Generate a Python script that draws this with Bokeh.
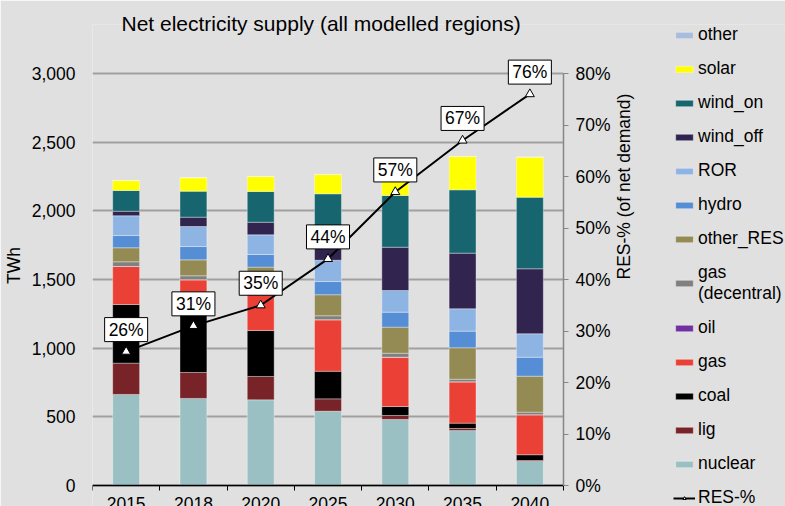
import math
from bokeh.plotting import figure
from bokeh.models import (ColumnDataSource, Range1d, LinearAxis, FixedTicker, Grid,
                          NumeralTickFormatter, Legend, LegendItem, LabelSet, BoxAnnotation)
from bokeh.models.glyphs import Text
from bokeh.embed import file_html
from bokeh.resources import INLINE

# ---------------- data ----------------
years = ["2015", "2018", "2020", "2025", "2030", "2035", "2040"]

nuclear = [663, 634, 624, 541, 481, 400, 175]
lig = [228, 189, 170, 90, 29, 15, 7]
coal = [427, 502, 335, 201, 65, 39, 42]
gas = [277, 173, 370, 375, 359, 301, 291]
oil = [0, 0, 0, 0, 0, 0, 0]
gas_decentral = [34, 29, 30, 29, 29, 19, 19]
other_res = [102, 116, 61, 153, 190, 229, 262]
hydro = [89, 97, 92, 96, 109, 121, 138]
ror = [144, 146, 143, 155, 158, 163, 171]
wind_off = [33, 68, 92, 140, 315, 405, 473]
wind_on = [151, 189, 224, 344, 377, 461, 521]
solar = [73, 98, 109, 141, 160, 243, 292]
other = [0, 0, 0, 0, 0, 0, 0]

res_share = [0.26, 0.31, 0.35, 0.44, 0.57, 0.67, 0.76]

twh_ticks = [0, 500, 1000, 1500, 2000, 2500, 3000]
pct_ticks = [0.0, 0.1, 0.2, 0.3, 0.4, 0.5, 0.6, 0.7, 0.8]

# stacking order bottom -> top
series = [
    ("nuclear", nuclear, "#9BC0C3"),
    ("lig", lig, "#772328"),
    ("coal", coal, "#000000"),
    ("gas", gas, "#EA4035"),
    ("oil", oil, "#7030A0"),
    ("gas_decentral", gas_decentral, "#808080"),
    ("other_RES", other_res, "#948A54"),
    ("hydro", hydro, "#558ED5"),
    ("ROR", ror, "#8EB4E3"),
    ("wind_off", wind_off, "#312550"),
    ("wind_on", wind_on, "#17666F"),
    ("solar", solar, "#FFFF00"),
    ("other", other, "#A9BCDB"),
]
legend_text = {"gas_decentral": "gas\n(decentral)"}

FONT = "Liberation Sans"
BG = "#E0E0E0"
FS = "17.5px"
TXT = "#000000"

# ---------------- geometry (pixels) ----------------
W, H = 785, 506
PLOT_L, PLOT_R = 92, 563          # bar area left / right-axis position
FRAME_T = 24                      # frame top (legend shares the frame)
Y0_PX, Y3000_PX = 485, 73         # pixel rows of 0 and 3,000 TWh

n = len(years)
tw_per_px = 3000.0 / (Y0_PX - Y3000_PX)
y_lo = -(H - Y0_PX) * tw_per_px
y_hi = (Y0_PX - FRAME_T) * tw_per_px
x_per_px = n / float(PLOT_R - PLOT_L)
x_hi = n + (W - PLOT_R) * x_per_px
pct_scale = 0.8 / 3000.0

centers = [i + 0.5 for i in range(n)]
bounds = [float(i) for i in range(n + 1)]

data = {"x": centers}
for key, vals, _ in series:
    data[key] = vals
src = ColumnDataSource(data)

p = figure(width=W, height=H, output_backend="svg", toolbar_location=None,
           x_range=Range1d(0, x_hi), y_range=Range1d(y_lo, y_hi),
           background_fill_color=BG, border_fill_color=BG,
           min_border_left=PLOT_L, min_border_right=0, min_border_top=FRAME_T,
           min_border_bottom=0)
p.outline_line_color = None
p.extra_y_ranges = {"pct": Range1d(y_lo * pct_scale, y_hi * pct_scale)}

# title
p.title.text = "Net electricity supply (all modelled regions)"
p.title.align = "left"
p.title.offset = 29
p.title.vertical_align = "bottom"
p.title.text_font = FONT
p.title.text_font_size = "21px"
p.title.text_font_style = "normal"
p.title.text_color = TXT
try:
    p.title.standoff = -20
except Exception:
    p.title.standoff = 0

# grid (only across the bar area)
p.xgrid.grid_line_color = None
p.ygrid.grid_line_color = "#A0A0A0"
p.ygrid.grid_line_width = 2
if "cross_bounds" in Grid.properties():
    p.ygrid.cross_bounds = (0, n)
else:
    p.add_layout(BoxAnnotation(left=n, fill_color=BG, fill_alpha=1.0,
                               line_color=None, level="underlay"))

# bars
renderers = p.vbar_stack([s[0] for s in series], x="x", width=0.4, source=src,
                         fill_color=[s[2] for s in series],
                         line_color="#FFFFFF", line_alpha=0.35, line_width=1)

# RES share line
line_src = ColumnDataSource({"x": centers, "y": res_share,
                             "lbl": ["%d%%" % round(v * 100) for v in res_share]})
line_r = p.line("x", "y", source=line_src, y_range_name="pct",
                line_color="#000000", line_width=2)
mark_r = p.scatter("x", "y", source=line_src, y_range_name="pct", marker="triangle",
                   size=9, fill_color="#FFFFFF", line_color="#000000", line_width=1)

text_props = Text.properties()
if "padding" in text_props and "background_fill_color" in text_props:
    p.text("x", "y", text="lbl", source=line_src, y_range_name="pct",
           text_align="center", text_baseline="bottom", y_offset=-10,
           text_font={"value": FONT}, text_font_size={"value": "17.5px"},
           text_color=TXT, background_fill_color="#FFFFFF",
           border_line_color="#000000", border_line_width=1, padding=[4, 2])
else:
    p.add_layout(LabelSet(x="x", y="y", text="lbl", source=line_src,
                          y_range_name="pct", text_align="center",
                          text_baseline="bottom", y_offset=10,
                          text_font=FONT, text_font_size="17.5px",
                          text_color=TXT, background_fill_color="#FFFFFF",
                          border_line_color="#000000", border_line_width=1))

# left axis
ya = p.yaxis[0]
ya.ticker = FixedTicker(ticks=twh_ticks)
ya.formatter = NumeralTickFormatter(format="0,0")
ya.bounds = (0, 3000)
ya.axis_line_color = None
ya.major_tick_line_color = None
ya.minor_tick_line_color = None
ya.major_tick_out = 0
ya.major_tick_in = 0
ya.major_label_standoff = 17
ya.major_label_text_font = FONT
ya.major_label_text_font_size = FS
ya.major_label_text_color = TXT
ya.axis_label = "TWh"
ya.axis_label_text_font = FONT
ya.axis_label_text_font_size = FS
ya.axis_label_text_font_style = "normal"
ya.axis_label_text_color = TXT
ya.axis_label_standoff = 5

# bottom axis, pinned at 0 TWh
xa = p.xaxis[0]
xa.fixed_location = 0
xa.bounds = (0, n)
xa.ticker = FixedTicker(ticks=centers, minor_ticks=bounds)
xa.major_label_overrides = {c: y for c, y in zip(centers, years)}
xa.axis_line_color = "#000000"
xa.axis_line_width = 1.5
xa.major_tick_line_color = None
xa.major_tick_out = 0
xa.major_tick_in = 0
xa.minor_tick_line_color = "#000000"
xa.minor_tick_out = 5
xa.minor_tick_in = 0
xa.major_label_standoff = 6
xa.major_label_text_font = FONT
xa.major_label_text_font_size = FS
xa.major_label_text_color = TXT

# right axis, pinned at the right edge of the bar area
ra = LinearAxis(y_range_name="pct", ticker=FixedTicker(ticks=pct_ticks),
                formatter=NumeralTickFormatter(format="0%"), bounds=(0, 0.8))
ra.fixed_location = n
ra.axis_line_color = "#868686"
ra.axis_line_width = 1.5
ra.major_tick_line_color = "#868686"
ra.major_tick_out = 5
ra.major_tick_in = 0
ra.minor_tick_line_color = None
ra.major_label_standoff = 7
ra.major_label_text_font = FONT
ra.major_label_text_font_size = FS
ra.major_label_text_color = TXT
ra.axis_label = "RES-% (of net demand)"
ra.axis_label_text_font = FONT
ra.axis_label_text_font_size = FS
ra.axis_label_text_font_style = "normal"
ra.axis_label_text_color = TXT
ra.axis_label_standoff = 10
if "axis_label_orientation" in LinearAxis.properties():
    ra.axis_label_orientation = math.pi / 2
p.add_layout(ra, "right")

# legend (top -> bottom = reversed stacking order)
items = []
for (key, _, _), r in reversed(list(zip(series, renderers))):
    items.append(LegendItem(label=legend_text.get(key, key), renderers=[r]))
items.append(LegendItem(label="RES-%", renderers=[line_r, mark_r]))

legend = Legend(items=items, location=(673 - PLOT_L, -2), orientation="vertical",
                label_text_font=FONT, label_text_font_size=FS,
                label_text_color=TXT,
                glyph_width=22, glyph_height=8, label_standoff=3,
                label_height=21, spacing=13, padding=0, margin=0,
                border_line_color=None, background_fill_alpha=0)
p.add_layout(legend, "center")

open("out.html", "w").write(file_html(p, INLINE))
